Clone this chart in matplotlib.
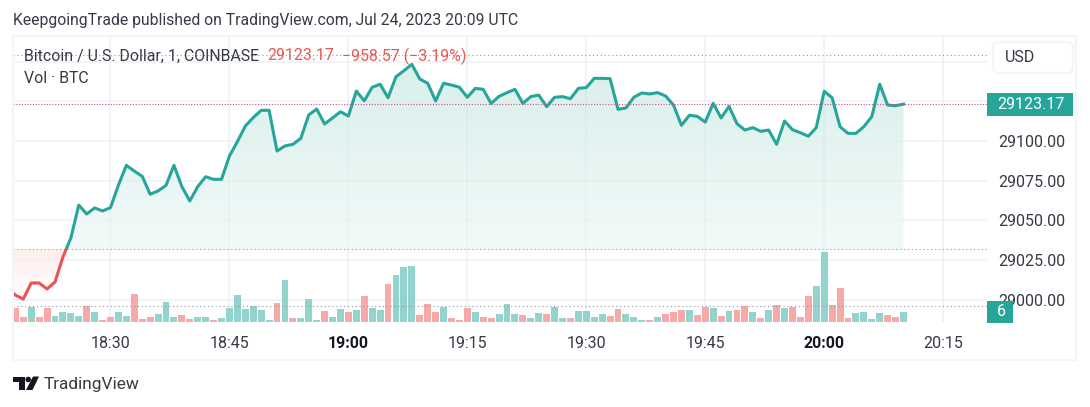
"""BTC/USD 1-minute baseline chart with volume, TradingView snapshot style."""

import matplotlib
matplotlib.use("Agg")
import matplotlib.pyplot as plt
import numpy as np
from matplotlib.colors import LinearSegmentedColormap
from matplotlib.patches import Circle, FancyBboxPatch, Polygon, Rectangle

# minutes since 18:00, one bar per minute; 18:17 is cut off by the left edge
minutes = list(range(17, 131))

price = [
    29008.0,
    29003.1, 29000.6, 29010.7, 29010.7, 29006.9, 29011.3, 29027.0, 29039.0, 29059.7, 29054.1,
    29057.9, 29056.0, 29058.1, 29072.3, 29084.7, 29081.1, 29077.8, 29066.5, 29068.6, 29072.1,
    29084.7, 29071.3, 29062.3, 29071.3, 29077.5, 29075.9, 29075.9, 29090.6, 29099.6, 29109.4,
    29114.7, 29119.3, 29119.3, 29093.7, 29096.9, 29097.9, 29101.7, 29116.4, 29120.1, 29110.7,
    29114.5, 29118.4, 29115.7, 29131.4, 29125.3, 29133.8, 29135.7, 29127.2, 29140.4, 29144.2,
    29148.2, 29139.0, 29136.3, 29125.2, 29136.3, 29135.2, 29133.8, 29127.5, 29133.1, 29132.5,
    29123.6, 29128.1, 29130.4, 29132.5, 29123.7, 29127.9, 29128.9, 29121.6, 29127.5, 29127.9,
    29126.6, 29133.1, 29133.6, 29139.4, 29139.4, 29139.2, 29119.9, 29120.8, 29127.5, 29130.2,
    29129.6, 29130.4, 29128.3, 29122.6, 29109.9, 29116.2, 29115.5, 29111.9, 29123.7, 29114.5,
    29121.8, 29110.9, 29106.9, 29108.4, 29106.1, 29106.9, 29097.9, 29112.6, 29107.1, 29105.2,
    29103.0, 29108.4, 29131.3, 29127.2, 29109.0, 29104.8, 29104.8, 29109.0, 29115.3, 29135.7,
    29122.6, 29122.2, 29123.17,
]

volume = [
    5.0,
    8.4, 3.0, 9.0, 3.0, 8.4, 3.8, 6.2, 5.6, 3.8, 9.8,
    6.2, 1.4, 3.2, 6.2, 3.8, 16.8, 1.8, 3.2, 4.8, 11.8,
    3.2, 4.4, 2.0, 3.2, 3.2, 1.4, 2.4, 8.6, 16.4, 8.0,
    9.8, 7.2, 1.4, 11.4, 25.2, 2.4, 2.4, 13.8, 1.4, 6.8,
    3.0, 8.0, 6.2, 7.0, 15.8, 8.4, 7.4, 22.8, 28.4, 33.0,
    33.6, 4.2, 10.8, 6.0, 8.8, 2.4, 1.4, 8.4, 6.0, 2.8,
    2.4, 4.6, 10.8, 4.6, 4.2, 2.2, 5.6, 4.6, 8.8, 2.2,
    2.4, 6.6, 6.6, 2.8, 5.0, 3.6, 7.8, 5.0, 3.2, 1.2,
    1.4, 2.8, 5.0, 6.0, 7.4, 7.4, 4.2, 8.8, 8.4, 3.6,
    6.4, 7.0, 9.4, 6.0, 2.6, 7.4, 10.2, 8.4, 8.8, 2.8,
    15.4, 21.4, 42.2, 10.2, 20.4, 2.6, 5.4, 6.0, 1.8, 5.4,
    4.2, 3.2, 6.0,
]

# 1 = bar closed lower than it opened
bar_down = [
    1,
    1, 1, 0, 1, 1, 0, 0, 0, 0, 1, 0, 1, 1, 0, 0, 1, 1, 1, 0, 0,
    0, 1, 1, 0, 0, 1, 0, 0, 0, 0, 0, 0, 0, 1, 0, 1, 0, 0, 0, 1,
    0, 0, 1, 0, 1, 0, 0, 1, 0, 0, 0, 1, 1, 1, 0, 1, 1, 1, 0, 1,
    1, 0, 0, 0, 1, 0, 0, 1, 0, 0, 1, 0, 0, 0, 0, 1, 1, 0, 0, 0,
    1, 0, 1, 1, 1, 0, 1, 1, 0, 1, 0, 1, 1, 0, 1, 0, 1, 0, 1, 1,
    1, 0, 0, 1, 1, 1, 0, 0, 0, 0, 1, 1, 0,
]

time_ticks = [30, 45, 60, 75, 90, 105, 120, 135]
time_labels = ["18:30", "18:45", "19:00", "19:15", "19:30", "19:45", "20:00", "20:15"]
price_ticks = [29000, 29025, 29050, 29075, 29100, 29125, 29150]
price_labels = ["29000.00", "29025.00", "29050.00", "29075.00", "29100.00", "", ""]

baseline = 29031.8
day_high = 29154.1
vol_floor = 9.6  # dotted level in the volume pane

TEAL = "#26a69a"
RED = "#ef5350"
TEXT = "#363a45"
GRID = "#f3f5fa"
FONT = "Roboto"

plt.rcParams["font.family"] = [FONT, "DejaVu Sans"]

W, H = 1090, 407
XMIN, XMAX = 17.705, 140.53
fig = plt.figure(figsize=(W / 100, H / 100), dpi=100, facecolor="white")

# plot area in pixels: x 13..987, y 36..322
ax = fig.add_axes([13 / W, 1 - 322 / H, 974 / W, 286 / H])
ax.set_xlim(XMIN, XMAX)
ax.set_ylim(28986.16, 29166.04)
for side in ax.spines.values():
    side.set_visible(False)
ax.set_axisbelow(True)
ax.grid(True, color=GRID, linewidth=1.1)
ax.set_yticks(price_ticks, price_labels)
ax.set_xticks(time_ticks, time_labels)
ax.tick_params(axis="x", length=0, pad=10, labelsize=11.5, labelcolor=TEXT)
for label in ax.get_xticklabels():
    if label.get_text() in ("19:00", "20:00"):
        label.set_fontweight("bold")
        label.set_color("#131722")

x = np.array(minutes, dtype=float)
y = np.array(price)
ymin, ymax = ax.get_ylim()

# baseline fills, gradient images clipped to the area under / over the line
up_cmap = LinearSegmentedColormap.from_list("up", ["#f2faf9", "#d9efeb"])
down_cmap = LinearSegmentedColormap.from_list("down", ["#ffffff", "#fdeeed"])
ramp = np.linspace(0, 1, 256).reshape(-1, 1)
up_img = ax.imshow(ramp, origin="lower", cmap=up_cmap, aspect="auto",
                   extent=(XMIN, x[-1], baseline, y.max()), zorder=1)
down_img = ax.imshow(ramp, origin="lower", cmap=down_cmap, aspect="auto",
                     extent=(XMIN, x[-1], y.min(), baseline), zorder=1)
ax.set_xlim(XMIN, XMAX)
ax.set_ylim(ymin, ymax)

poly_xy = np.vstack([[x[0], baseline], np.column_stack([x, y]), [x[-1], baseline]])
for img in (up_img, down_img):
    clip = Polygon(poly_xy, closed=True, transform=ax.transData)
    img.set_clip_path(clip)

# grid shows faintly through the fill
for t in time_ticks:
    ax.axvline(t, color="#0a3d38", alpha=0.025, linewidth=1.1, zorder=1.5)
for p in price_ticks:
    ax.axhline(p, color="#0a3d38", alpha=0.015, linewidth=1.1, zorder=1.5)

# dotted reference levels
ax.axhline(day_high, color="#9598a1", linestyle=(0, (1, 2.5)), linewidth=0.8, zorder=2)
ax.axhline(baseline, color="#9598a1", linestyle=(0, (1, 2.5)), linewidth=0.8, zorder=2)
ax.axhline(price[-1], color="#c9508c", linestyle=(0, (1, 1.5)), linewidth=0.8, zorder=4)

# line, teal above the baseline and red below
up_line, = ax.plot(x, y, color=TEAL, linewidth=2.2, zorder=3, solid_joinstyle="round")
down_line, = ax.plot(x, y, color=RED, linewidth=2.2, zorder=3, solid_joinstyle="round")
up_line.set_clip_path(Rectangle((XMIN, baseline), 124, 200, transform=ax.transData))
down_line.set_clip_path(Rectangle((XMIN, 28900), 124, baseline - 28900, transform=ax.transData))

# volume pane shares the plot area, 0.6 BTC per pixel
vax = ax.twinx()
vax.set_ylim(0, 171.6)
vax.set_yticks([])
for side in vax.spines.values():
    side.set_visible(False)
bar_colors = ["#f7a9a7" if d else "#92d3cd" for d in bar_down]
vax.bar(x, volume, width=0.87, color=bar_colors, linewidth=0, zorder=2)
vax.axhline(vol_floor, color="#9598a1", linestyle=(0, (1, 2.5)), linewidth=0.8, zorder=3)

# twinx moves the price labels to the left, put them back
ax.yaxis.tick_right()
ax.tick_params(axis="y", length=0, pad=8, labelsize=11.5, labelcolor=TEXT)

# chrome drawn on a full-figure overlay in pixel coordinates
ui = fig.add_axes([0, 0, 1, 1], facecolor="none")
ui.set_xlim(0, W)
ui.set_ylim(H, 0)
ui.axis("off")

ui.add_patch(Rectangle((13, 36), 1063, 324, fill=False, edgecolor=GRID, linewidth=1.5))

ui.text(13, 20, "KeepgoingTrade published on TradingView.com, Jul 24, 2023 20:09 UTC",
        fontsize=11.3, color=TEXT, va="center", ha="left")
ui.text(24.5, 56, "Bitcoin / U.S. Dollar, 1, COINBASE", fontsize=11.4, color=TEXT, va="center")
ui.text(267, 56, f"{price[-1]:.2f}", fontsize=11.4, color=RED, va="center")
ui.text(342, 56, "\u2212958.57 (\u22123.19%)", fontsize=11.4, color=RED, va="center")
ui.text(24.5, 78.5, "Vol \u00b7 BTC", fontsize=11.4, color=TEXT, va="center")

usd_box = FancyBboxPatch((997, 46), 72, 23, boxstyle="round,pad=4,rounding_size=6",
                         facecolor="white", edgecolor=GRID, linewidth=1.5)
ui.add_patch(usd_box)
ui.text(1005, 57.5, "USD", fontsize=11.5, color=TEXT, va="center")

ui.add_patch(Rectangle((987, 93), 85.5, 23, facecolor=TEAL, edgecolor="none"))
ui.text(1031, 104.5, f"{price[-1]:.2f}", fontsize=11.5, color="white", va="center", ha="center")
ui.add_patch(Rectangle((987, 301), 26, 21.5, facecolor=TEAL, edgecolor="none"))
ui.text(1002, 312, f"{volume[-1]:.0f}", fontsize=11.5, color="white", va="center", ha="center")

# TradingView logo
logo = "#131722"
ui.add_patch(Polygon([(13, 376.5), (25, 376.5), (25, 390), (19, 390), (19, 382), (13, 382)],
                     facecolor=logo, edgecolor="none"))
ui.add_patch(Circle((28.2, 379.5), 2.8, facecolor=logo, edgecolor="none"))
ui.add_patch(Polygon([(33, 376.5), (39, 376.5), (32.5, 390), (26, 390)],
                     facecolor=logo, edgecolor="none"))
ui.text(44, 384.5, "TradingView", fontsize=12.4, color=TEXT, va="center")

fig.savefig("out.png", dpi=100)
